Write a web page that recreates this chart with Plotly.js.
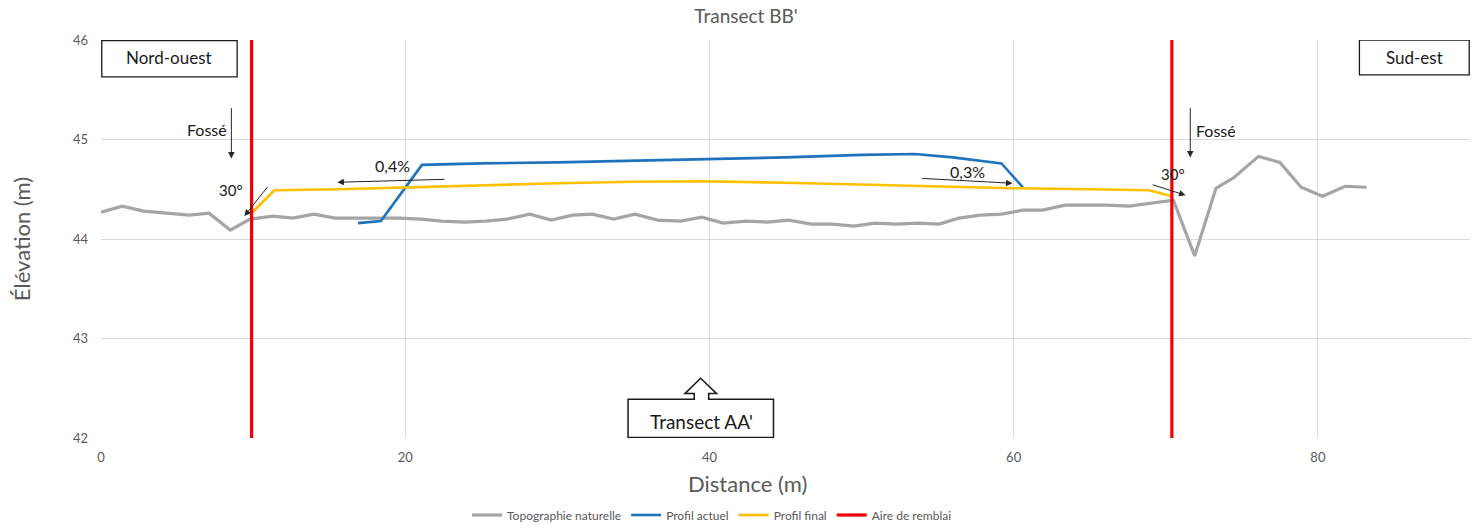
<!DOCTYPE html>
<html>
<head>
<meta charset="utf-8">
<script src="https://cdn.plot.ly/plotly-3.0.1.min.js"></script>
<style>html,body{margin:0;padding:0;background:#fff;}#chart{width:1482px;height:525px;}</style>
</head>
<body>
<div id="chart"></div>
<script>
// Topographie naturelle
var topoX = [0, 1.4, 2.8, 4.3, 5.8, 7.1, 8.5, 9.8, 11.3, 12.6, 14.0, 15.4, 16.8, 18.2, 19.6, 21.0, 22.4, 23.9, 25.3, 26.7, 28.2, 29.6, 31.0, 32.3, 33.7, 35.1, 36.6, 38.1, 39.5, 40.9, 42.4, 43.8, 45.2, 46.7, 48.1, 49.5, 50.9, 52.3, 53.7, 55.1, 56.4, 57.8, 59.2, 60.6, 61.9, 63.4, 64.7, 66.1, 67.6, 69.0, 70.5, 71.9, 73.3, 74.5, 76.1, 77.5, 78.9, 80.3, 81.8, 83.2];
var topoY = [44.27, 44.33, 44.28, 44.26, 44.24, 44.26, 44.09, 44.20, 44.23, 44.21, 44.25, 44.21, 44.21, 44.21, 44.21, 44.20, 44.18, 44.17, 44.18, 44.20, 44.25, 44.19, 44.24, 44.25, 44.20, 44.25, 44.19, 44.18, 44.22, 44.16, 44.18, 44.17, 44.19, 44.15, 44.15, 44.13, 44.16, 44.15, 44.16, 44.15, 44.21, 44.24, 44.25, 44.29, 44.29, 44.34, 44.34, 44.34, 44.33, 44.36, 44.39, 43.83, 44.51, 44.62, 44.83, 44.77, 44.52, 44.43, 44.53, 44.52];
// Profil actuel
var actuelX = [16.9, 18.4, 21.1, 25, 30, 35, 39.5, 45, 50, 53.5, 56, 59.2, 60.6];
var actuelY = [44.16, 44.18, 44.745, 44.76, 44.77, 44.785, 44.805, 44.82, 44.845, 44.855, 44.82, 44.76, 44.52];
// Profil final
var finalX = [9.9, 11.4, 15.7, 20, 25, 30, 35, 39.5, 45, 50, 55, 60, 65, 68.9, 70.4];
var finalY = [44.26, 44.49, 44.50, 44.52, 44.54, 44.56, 44.575, 44.58, 44.565, 44.545, 44.53, 44.51, 44.50, 44.49, 44.43];
// Aire de remblai
var remblaiX = [9.9, 9.9, null, 70.4, 70.4];
var remblaiY = [42, 46, null, 42, 46];

var FONT = "Lato, 'Open Sans', sans-serif";

var traces = [
  {x: topoX, y: topoY, mode: 'lines', name: 'Topographie naturelle', line: {color: '#A5A5A5', width: 3.2}},
  {x: actuelX, y: actuelY, mode: 'lines', name: 'Profil actuel', line: {color: '#1F72BC', width: 2.6}},
  {x: finalX, y: finalY, mode: 'lines', name: 'Profil final', line: {color: '#FFC000', width: 2.6}},
  {x: remblaiX, y: remblaiY, mode: 'lines', name: 'Aire de remblai', line: {color: '#F00000', width: 3.2}}
];

function arrow(x, y, ax, ay) {
  return {x: x, y: y, ax: ax, ay: ay, xref: 'x', yref: 'y', axref: 'x', ayref: 'y', text: '',
          showarrow: true, arrowhead: 2, arrowsize: 1.3, arrowwidth: 1, arrowcolor: '#262626'};
}
function label(x, y, t, size) {
  return {x: x, y: y, xref: 'x', yref: 'y', text: t, showarrow: false,
          font: {family: FONT, size: size || 14, color: '#1a1a1a'}};
}

var annotations = [
  label(4.48, 45.82, 'Nord-ouest', 17),
  label(86.35, 45.82, 'Sud-est', 17),
  label(39.5, 42.17, "Transect AA'", 19),
  label(6.99, 45.10, 'Fossé', 16),
  arrow(8.57, 44.81, 8.57, 45.33),
  label(73.32, 45.09, 'Fossé', 16),
  arrow(71.61, 44.82, 71.61, 45.33),
  label(8.57, 44.49, '30°', 15),
  arrow(9.43, 44.23, 11.03, 44.54),
  label(70.47, 44.65, '30°', 15),
  arrow(71.3, 44.44, 69.04, 44.55),
  label(19.18, 44.74, '0,4%', 16),
  arrow(15.54, 44.57, 22.68, 44.60),
  label(56.95, 44.68, '0,3%', 16),
  arrow(59.92, 44.56, 53.88, 44.61),
  {x: (747 - 101) / 1369, y: (438 - 483) / 398, xref: 'paper', yref: 'paper', text: 'Distance (m)', showarrow: false,
   xanchor: 'center', yanchor: 'middle', font: {family: FONT, size: 22, color: '#595959'}}
];

var shapes = [
  {type: 'rect', xref: 'x', yref: 'y', x0: 0.05, x1: 8.95, y0: 45.63, y1: 45.995,
   line: {color: '#1a1a1a', width: 1.3}, fillcolor: '#ffffff', layer: 'above'},
  {type: 'rect', xref: 'x', yref: 'y', x0: 82.73, x1: 89.95, y0: 45.65, y1: 46.0,
   line: {color: '#1a1a1a', width: 1.3}, fillcolor: '#ffffff', layer: 'above'},
  {type: 'path', xref: 'x', yref: 'y', layer: 'above', fillcolor: '#ffffff',
   line: {color: '#1a1a1a', width: 1.5},
   path: 'M 34.65,42.005 L 34.65,42.39 L 39.0,42.39 L 39.0,42.446 L 38.39,42.446 L 39.42,42.60 L 40.47,42.446 L 39.95,42.446 L 39.95,42.39 L 44.21,42.39 L 44.21,42.005 Z'}
];

var layout = {
  width: 1482, height: 525,
  margin: {l: 101, r: 12, t: 40, b: 87, autoexpand: false},
  paper_bgcolor: '#ffffff', plot_bgcolor: '#ffffff',
  font: {family: FONT, color: '#595959'},
  title: {text: "Transect BB'", font: {family: FONT, size: 19, color: '#595959'},
          x: 746 / 1482, xref: 'container', xanchor: 'center', y: 1 - 16 / 525, yref: 'container', yanchor: 'middle'},
  xaxis: {range: [0, 90], dtick: 20, tick0: 0, showgrid: true, gridcolor: '#D9D9D9', gridwidth: 1,
          zeroline: false, showline: false, ticks: '', ticklabelstandoff: 10,
          tickfont: {family: FONT, size: 13, color: '#595959'}, fixedrange: true},
  yaxis: {range: [42, 46], dtick: 1, tick0: 42, showgrid: true, gridcolor: '#D9D9D9', gridwidth: 1,
          zeroline: false, showline: false, ticks: '', ticklabelstandoff: 12,
          tickfont: {family: FONT, size: 13, color: '#595959'},
          title: {text: 'Élévation (m)', font: {family: FONT, size: 22, color: '#595959'}, standoff: 36},
          fixedrange: true},
  showlegend: true,
  legend: {orientation: 'h', x: 712 / 1482, xref: 'container', xanchor: 'center',
           y: 1 - 515 / 525, yref: 'container', yanchor: 'middle',
           font: {family: FONT, size: 12, color: '#595959'}, bgcolor: 'rgba(0,0,0,0)', itemwidth: 30, tracegroupgap: 0},
  annotations: annotations,
  shapes: shapes
};

Plotly.newPlot('chart', traces, layout, {displayModeBar: false, staticPlot: true});
</script>
</body>
</html>
